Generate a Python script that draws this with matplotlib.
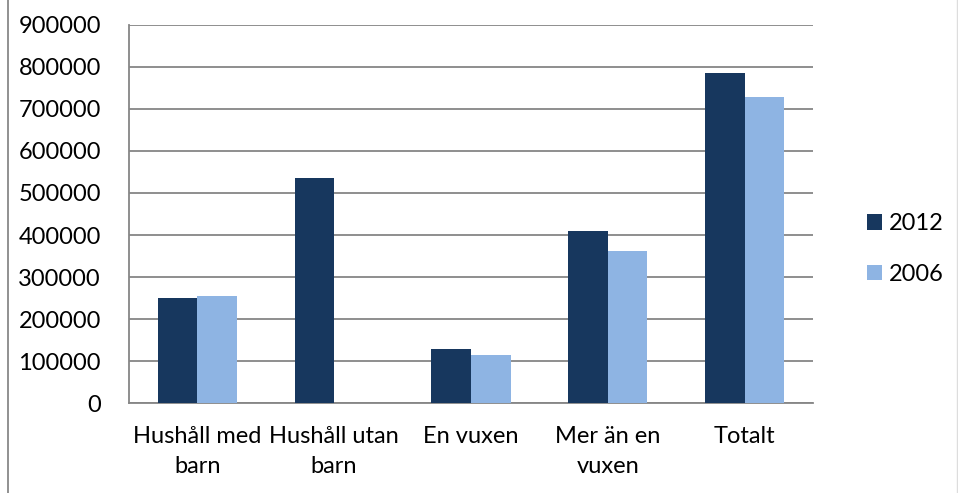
import matplotlib
matplotlib.use("Agg")
import matplotlib.pyplot as plt
import numpy as np
from matplotlib.lines import Line2D

categories = ["Hushåll med\nbarn", "Hushåll utan\nbarn", "En vuxen", "Mer än en\nvuxen", "Totalt"]
series_names = ["2012", "2006"]
values_2012 = [251000, 536000, 129000, 410000, 784000]
values_2006 = [256000, 0, 115000, 363000, 728000]
yticks = [0, 100000, 200000, 300000, 400000, 500000, 600000, 700000, 800000, 900000]

dark = "#17375E"
light = "#8EB4E3"
grid_c = "#868686"

plt.rcParams['font.family'] = ['Lato', 'DejaVu Sans']
fs = 17.0

fig = plt.figure(figsize=(9.58, 4.93), dpi=100)
ax = fig.add_axes([128.7/958, 1-403.3/493, (813.3-128.7)/958, (403.3-24.7)/493])

x = np.arange(len(categories))
w = 0.289
b1 = ax.bar(x - w/2, values_2012, w, color=dark, label=series_names[0], zorder=3)
b2 = ax.bar(x + w/2, values_2006, w, color=light, label=series_names[1], zorder=3)

ax.set_xlim(-0.5, len(categories) - 0.5)
ax.set_ylim(0, 900000)
ax.set_yticks(yticks)
ax.set_yticklabels([str(v) for v in yticks], fontsize=fs)
ax.set_xticks(x)
ax.set_xticklabels(categories, fontsize=fs)
for t in ax.get_xticklabels():
    t.set_linespacing(1.55)
ax.tick_params(axis='both', length=0, colors='black')
ax.tick_params(axis='y', pad=20)
ax.tick_params(axis='x', pad=16)
ax.yaxis.grid(True, color=grid_c, linewidth=1.3, zorder=0)
ax.set_axisbelow(True)
for s in ['top', 'right']:
    ax.spines[s].set_visible(False)
for s in ['left', 'bottom']:
    ax.spines[s].set_color(grid_c)
    ax.spines[s].set_linewidth(1.3)

leg = fig.legend(handles=[b1, b2], labels=series_names, loc='center left',
                 bbox_to_anchor=(855/958, 1-249/493), frameon=False, fontsize=fs,
                 handlelength=0.65, handleheight=0.65, handletextpad=0.3,
                 labelspacing=1.25, borderpad=0)

# chart border remnants
fig.add_artist(Line2D([8/958, 8/958], [0, 1], transform=fig.transFigure, color="#888888", linewidth=1.3))
fig.add_artist(Line2D([956.5/958, 956.5/958], [0, 1], transform=fig.transFigure, color="#dddddd", linewidth=1.0))

fig.savefig("out.png", dpi=100)
